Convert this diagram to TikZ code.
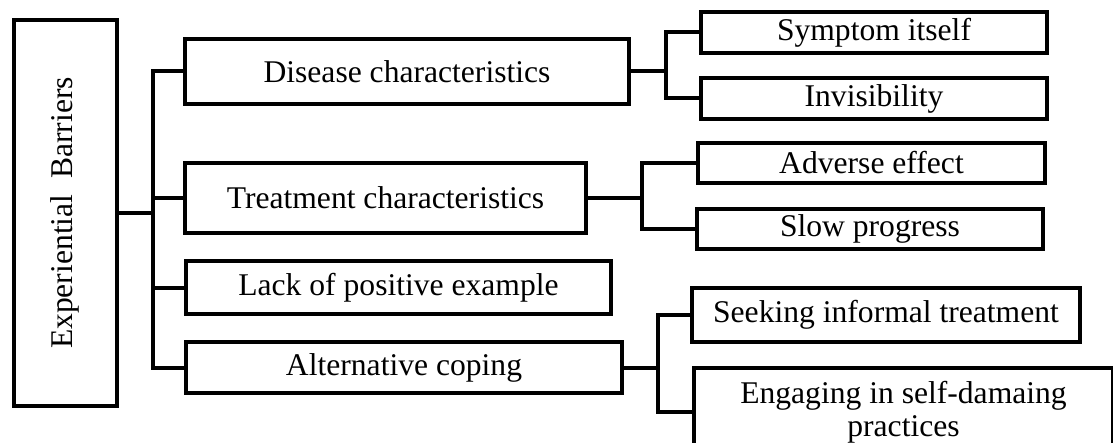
\documentclass[tikz,border=0pt]{standalone}
\usepackage{fontspec}
\setmainfont{Liberation Serif}
\usepackage{graphicx}

\begin{document}
\begin{tikzpicture}[x=0.5pt,y=-0.5pt]
\tikzstyle{boxstyle}=[draw, line width=2pt, inner sep=1.5pt, font=\fontsize{15.8}{16.5}\selectfont]
\tikzstyle{linkstyle}=[line width=2pt]
    \useasboundingbox (0,0) rectangle (1113,443);
    \clip (0,0) rectangle (1113,443);
    \node[boxstyle, minimum width=51.5pt, minimum height=192.5pt] (root) at (65,213) {\rotatebox{90}{Experiential\ \ Barriers}};
    \node[boxstyle, minimum width=222pt, minimum height=32.5pt] (dis) at (407,71.5) {Disease characteristics};
    \node[boxstyle, minimum width=200.5pt, minimum height=35pt] (tre) at (385.5,198) {Treatment characteristics};
    \node[boxstyle, minimum width=212.5pt, minimum height=26.5pt] (lack) at (398.5,287.5) {Lack of positive example};
    \node[boxstyle, minimum width=218pt, minimum height=25.5pt] (alt) at (404,367.5) {Alternative coping};
    \node[boxstyle, minimum width=173pt, minimum height=20.5pt] (sym) at (874,32.5) {Symptom itself};
    \node[boxstyle, minimum width=173pt, minimum height=20.5pt] (inv) at (874,98.5) {Invisibility};
    \node[boxstyle, minimum width=173.5pt, minimum height=20pt] (adv) at (871.5,163) {Adverse effect};
    \node[boxstyle, minimum width=173pt, minimum height=20pt] (slow) at (870,229) {Slow progress};
    \node[boxstyle, minimum width=194pt, minimum height=27pt] (seek) at (886,315) {Seeking informal treatment};
    \node[boxstyle, minimum width=209.5pt, inner ysep=6.5pt, align=center, anchor=north west] (eng) at (692,366) {Engaging in self-damaing\\practices};
    \coordinate (rootbus) at (153,213);
    \coordinate (disbus) at (666,71.5);
    \coordinate (trebus) at (642,198);
    \coordinate (altbus) at (658,367.5);
    \draw[linkstyle] (root.east) -- (rootbus);
    \draw[linkstyle] (rootbus) |- (dis.west);
    \draw[linkstyle] (rootbus) |- (tre.west);
    \draw[linkstyle] (rootbus) |- (lack.west);
    \draw[linkstyle] (rootbus) |- (alt.west);
    \draw[linkstyle] (dis.east) -- (disbus);
    \draw[linkstyle] (disbus) |- (sym.west);
    \draw[linkstyle] (disbus) |- (inv.west);
    \draw[linkstyle] (tre.east) -- (trebus);
    \draw[linkstyle] (trebus) |- (adv.west);
    \draw[linkstyle] (trebus) |- (slow.west);
    \draw[linkstyle] (alt.east) -- (altbus);
    \draw[linkstyle] (altbus) |- (seek.west);
    \draw[linkstyle] (altbus) |- (eng.west);
\end{tikzpicture}
\end{document}
